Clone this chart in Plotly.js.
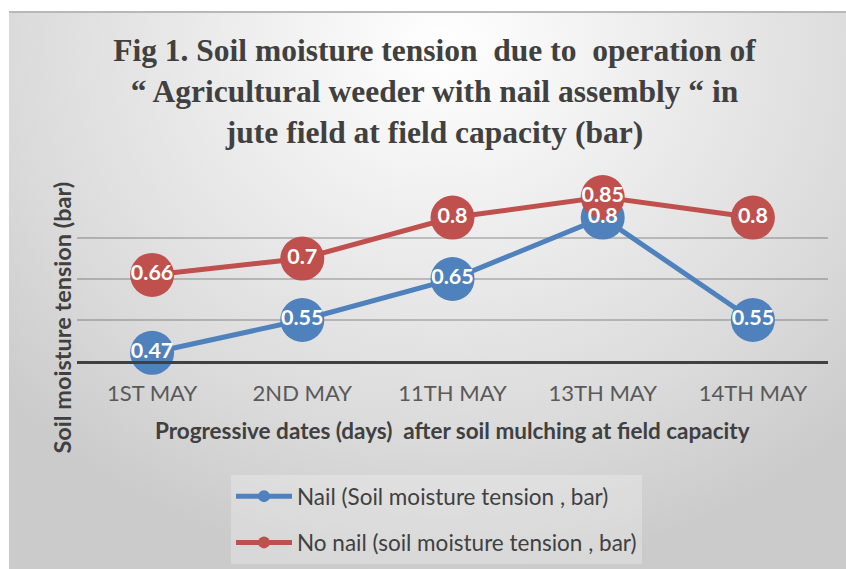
<!DOCTYPE html>
<html>
<head>
<meta charset="utf-8">
<script src="https://cdn.plot.ly/plotly-3.0.1.min.js"></script>
<style>
  html, body { margin: 0; padding: 0; background: #ffffff; }
  #chart {
    width: 846px; height: 569px;
    background:
      linear-gradient(#b8b8b8, #b8b8b8) 9px 11px / 837px 2px no-repeat,
      radial-gradient(ellipse 70% 95% at 52% 6%, #ffffff 0%, #ebebeb 40%, #dadada 75%, #cbcbcb 100%) 9px 12px / 837px 557px no-repeat,
      #ffffff;
  }
</style>
</head>
<body>
<div id="chart"></div>
<script>
// ---- data ----
const categories = ["1ST MAY", "2ND MAY", "11TH MAY", "13TH MAY", "14TH MAY"];
const nailValues = [0.47, 0.55, 0.65, 0.8, 0.55];
const noNailValues = [0.66, 0.7, 0.8, 0.85, 0.8];
const nailName = "Nail (Soil moisture tension , bar)";
const noNailName = "No nail (soil moisture tension , bar)";
const titleText = "Fig 1. Soil moisture tension  due to  operation of<br>“ Agricultural weeder with nail assembly “ in<br>jute field at field capacity (bar)";
const xTitle = "Progressive dates (days)  after soil mulching at field capacity";
const yTitle = "Soil moisture tension (bar)";

const blue = "#4f81bd";
const red = "#c0504d";
const sans = "Lato, 'Open Sans', sans-serif";
const labelFont = {family: sans, size: 21.5, color: "#ffffff", weight: "bold"};

const traces = [
  {
    x: categories, y: nailValues, name: nailName, type: "scatter", mode: "lines+markers",
    line: {color: blue, width: 5},
    marker: {color: blue, size: 44, line: {width: 0}},
    cliponaxis: false, legendgroup: "a", hoverinfo: "skip"
  },
  {
    x: categories, y: noNailValues, name: noNailName, type: "scatter", mode: "lines+markers",
    line: {color: red, width: 5},
    marker: {color: red, size: 44, line: {width: 0}},
    cliponaxis: false, legendgroup: "b", hoverinfo: "skip"
  },
  {
    x: categories, y: nailValues, type: "scatter", mode: "text",
    text: nailValues.map(String), textposition: "middle center",
    textfont: labelFont, showlegend: false, cliponaxis: false, hoverinfo: "skip"
  },
  {
    x: categories, y: noNailValues, type: "scatter", mode: "text",
    text: noNailValues.map(String), textposition: "middle center",
    textfont: labelFont, showlegend: false, cliponaxis: false, hoverinfo: "skip"
  }
];

const layout = {
  width: 846, height: 569,
  paper_bgcolor: "rgba(0,0,0,0)",
  plot_bgcolor: "rgba(0,0,0,0)",
  margin: {l: 76.5, r: 17.5, t: 197, b: 208, pad: 0, autoexpand: false},
  showlegend: true,
  title: {
    text: titleText,
    font: {family: "'Liberation Serif', 'Times New Roman', serif", size: 31.5, color: "#404040", weight: "bold"},
    xref: "container", x: 0.5136, xanchor: "center",
    yref: "container", y: 0.8928, yanchor: "top"
  },
  xaxis: {
    type: "category", range: [-0.5, 4.5],
    showgrid: false, zeroline: false,
    showline: true, linecolor: "#404040", linewidth: 3,
    ticks: "", ticklabelstandoff: 11,
    tickfont: {family: sans, size: 22, color: "#595959"},
    fixedrange: true, automargin: false
  },
  yaxis: {
    range: [0.45, 0.8502], tick0: 0.45, dtick: 0.1,
    showgrid: true, gridcolor: "rgba(0,0,0,0.2)", gridwidth: 1.3,
    showticklabels: false, zeroline: false, showline: false, ticks: "",
    fixedrange: true, automargin: false
  },
  legend: {
    orientation: "v",
    xref: "container", yref: "container",
    x: 231 / 846, xanchor: "left", y: 1 - 475 / 569, yanchor: "top",
    bgcolor: "rgba(255,255,255,0.25)",
    borderwidth: 0,
    font: {family: sans, size: 22.5, color: "#404040"},
    itemsizing: "constant", itemwidth: 56,
    tracegroupgap: 14
  },
  annotations: [
    {
      text: xTitle, xref: "paper", yref: "paper",
      x: 0.5, y: (361 - 430) / 164, xanchor: "center", yanchor: "middle",
      showarrow: false,
      font: {family: sans, size: 22.5, color: "#404040", weight: "bold"}
    },
    {
      text: yTitle, xref: "paper", yref: "paper", textangle: -90,
      x: (61 - 76.5) / 752, y: (361 - 318) / 164, xanchor: "center", yanchor: "middle",
      showarrow: false,
      font: {family: sans, size: 23.5, color: "#404040", weight: "bold"}
    }
  ]
};

Plotly.newPlot("chart", traces, layout, {displayModeBar: false, staticPlot: true});
</script>
</body>
</html>
